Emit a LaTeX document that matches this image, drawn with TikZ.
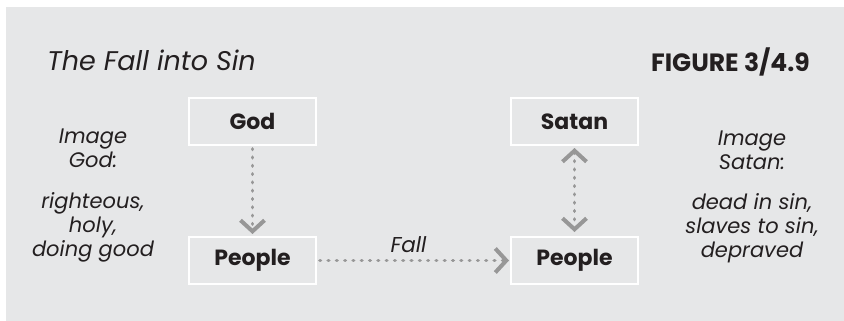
\documentclass[tikz,border=0pt]{standalone}
\usepackage{fontspec}
\setmainfont{Poppins}
\usetikzlibrary{arrows.meta,positioning}
\definecolor{panel}{HTML}{E6E7E8}
\definecolor{ink}{HTML}{231F20}
\definecolor{arrowgray}{HTML}{979797}
\tikzstyle{format}=[rectangle,draw=white,line width=2pt,minimum width=127pt,minimum height=47pt,inner sep=0pt,text=ink,font=\fontsize{22}{26}\selectfont\bfseries]
\tikzstyle{side}=[align=center,text=ink,inner sep=0pt,font=\fontsize{21}{24}\selectfont\itshape]
\tikzstyle{dots}=[draw=arrowgray,line width=3.8pt,line cap=round,dash pattern=on 0.4pt off 7.9pt]
\tikzset{chev/.tip={Straight Barb[line width=4pt,length=11pt,width=24pt,line cap=butt]}}

\begin{document}
\begin{tikzpicture}[x=1pt,y=1pt]
  \useasboundingbox (0,0) rectangle (844,-321);
  \fill[panel] (6,-7) rectangle (844,-321);
  % titles
  \node[anchor=base west,text=ink,inner sep=0pt,font=\fontsize{27}{30}\selectfont\itshape] (title) at (47,-71){The Fall into Sin};
  \node[anchor=base east,text=ink,inner sep=0pt,font=\fontsize{25}{28}\selectfont\bfseries] (fig) at (810,-72){FIGURE 3/4.9};
  % boxes
  \node[format] (god) at (252.5,-121.5){God};
  \node[format,below of=god,node distance=139pt] (people) {People};
  \node[format,right of=god,node distance=322pt] (satan) {Satan};
  \node[format,below of=satan,node distance=139pt] (peopleS) {People};
  % side texts
  \node[side,anchor=north] (imgGod) at (93,-129){Image\\God:};
  \node[side,anchor=north] (listGod) at (93,-192){righteous,\\holy,\\doing good};
  \node[side,anchor=north] (imgSatan) at (752,-131){Image\\Satan:};
  \node[side,anchor=north] (listSatan) at (752,-193){dead in sin,\\slaves to sin,\\depraved};
  % arrows
  \draw[dots,-{chev}] ([yshift=-3pt]god.south)--([yshift=2pt]people.north);
  \draw[dots,{chev}-{chev}] ([yshift=-2pt]satan.south)--([yshift=4pt]peopleS.north);
  \draw[dots,-{chev}] ([xshift=3pt]people.east)--([xshift=-1pt]peopleS.west) node[midway,above=3pt,xshift=-6pt,text=ink,font=\fontsize{21.5}{24}\selectfont\itshape]{Fall};
\end{tikzpicture}
\end{document}
